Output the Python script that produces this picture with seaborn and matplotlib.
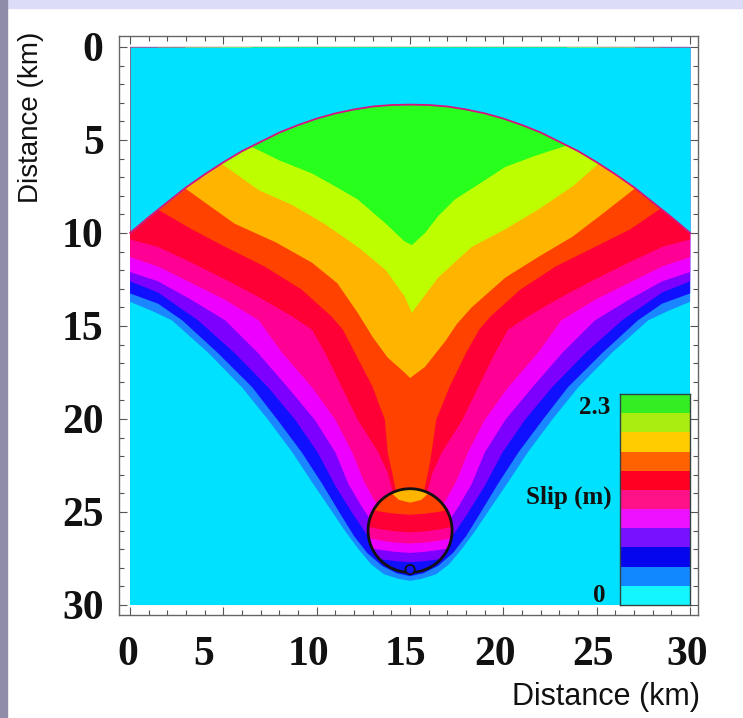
import numpy as np
import matplotlib
matplotlib.use("Agg")
import matplotlib.pyplot as plt
import seaborn as sns
from matplotlib.colors import ListedColormap
from matplotlib.patches import Circle, Rectangle
from matplotlib.transforms import ScaledTranslation

# rupture front (upper edge of slipping area), depth in km
arc_x = list(range(0, 31))
arc_y = [10.0, 9.15, 8.35, 7.55, 6.85, 6.2, 5.6, 5.1, 4.6, 4.2, 3.85, 3.57, 3.36, 3.2, 3.12, 3.1,
         3.12, 3.2, 3.36, 3.57, 3.85, 4.2, 4.6, 5.1, 5.6, 6.2, 6.85, 7.55, 8.35, 9.15, 10.0]

# lower edge of each slip level (level 1 = outer edge ... level 10 = highest slip)
b1_x = [0, 1.2, 2.25, 4.2, 6.0, 7.4, 8.7, 9.75, 10.7, 11.5, 12.2, 12.9, 13.6, 14.4, 15.0,
        15.6, 16.4, 17.1, 17.8, 18.5, 19.3, 20.25, 21.3, 22.6, 24.0, 25.8, 27.75, 28.8, 30]
b1_y = [13.7, 14.2, 14.7, 16.45, 18.3, 20.05, 21.8, 23.4, 24.8, 26.0, 26.95, 27.8, 28.35, 28.6, 28.7,
        28.6, 28.35, 27.8, 26.95, 26.0, 24.8, 23.4, 21.8, 20.05, 18.3, 16.45, 14.7, 14.2, 13.7]

b2_x = [0, 1.5, 2.8, 4.7, 6.55, 7.9, 9.2, 10.3, 11.2, 12.0, 12.7, 13.5, 14.3, 15.0,
        15.7, 16.5, 17.3, 18.0, 18.8, 19.7, 20.8, 22.1, 23.45, 25.3, 27.2, 28.5, 30]
b2_y = [13.25, 13.8, 14.7, 16.45, 18.3, 20.05, 21.8, 23.5, 25.0, 26.3, 27.2, 27.9, 28.3, 28.45,
        28.3, 27.9, 27.2, 26.3, 25.0, 23.5, 21.8, 20.05, 18.3, 16.45, 14.7, 13.8, 13.25]

b3_x = [0, 1.5, 2.5, 3.65, 5.6, 7.4, 8.85, 10.05, 11.0, 11.9, 12.6, 13.3, 14.1, 15.0,
        15.9, 16.7, 17.4, 18.1, 19.0, 19.95, 21.15, 22.6, 24.4, 26.35, 27.5, 28.5, 30]
b3_y = [12.6, 13.2, 13.9, 14.7, 16.45, 18.3, 20.05, 21.8, 23.6, 25.05, 26.1, 27.1, 27.75, 28.05,
        27.75, 27.1, 26.1, 25.05, 23.6, 21.8, 20.05, 18.3, 16.45, 14.7, 13.9, 13.2, 12.6]

b4_x = [0, 1.5, 3.3, 5.1, 6.85, 8.45, 9.9, 11.0, 11.7, 12.4, 13.2, 14.1, 15.0,
        15.9, 16.8, 17.6, 18.3, 19.0, 20.1, 21.55, 23.15, 24.9, 26.7, 28.5, 30]
b4_y = [12.1, 12.6, 13.6, 14.7, 16.45, 18.3, 20.05, 21.8, 23.5, 24.7, 25.9, 26.8, 27.2,
        26.8, 25.9, 24.7, 23.5, 21.8, 20.05, 18.3, 16.45, 14.7, 13.6, 12.6, 12.1]

b5_x = [0, 1.5, 3.3, 5.1, 6.9, 8.15, 9.75, 11.0, 11.9, 12.5, 13.1, 14.0, 15.0,
        16.0, 16.9, 17.5, 18.1, 19.0, 20.25, 21.85, 23.1, 24.9, 26.7, 28.5, 30]
b5_y = [11.3, 11.8, 12.7, 13.6, 14.7, 16.45, 18.3, 20.05, 21.8, 23.3, 24.4, 25.6, 26.0,
        25.6, 24.4, 23.3, 21.8, 20.05, 18.3, 16.45, 14.7, 13.6, 12.7, 11.8, 11.3]

b6_x = [0, 1.5, 3.3, 5.1, 6.9, 8.7, 9.75, 10.45, 11.35, 12.2, 13.3, 13.8, 14.0, 14.4, 15.0,
        15.6, 16.0, 16.2, 16.7, 17.8, 18.65, 19.55, 20.25, 21.3, 23.1, 24.9, 26.7, 28.5, 30]
b6_y = [10.35, 10.75, 11.6, 12.5, 13.45, 14.5, 15.2, 16.45, 18.3, 20.05, 21.8, 22.9, 23.65, 25.0, 25.3,
        25.0, 23.65, 22.9, 21.8, 20.05, 18.3, 16.45, 15.2, 14.5, 13.45, 12.5, 11.6, 10.75, 10.35]

b7_x = [1.5, 3.3, 5.1, 7.2, 9.2, 10.8, 11.4, 12.05, 13.0, 13.65, 13.8, 14.0, 14.2, 14.5, 15.0,
        15.5, 15.8, 16.0, 16.15, 16.4, 17.1, 18.0, 18.7, 19.3, 20.9, 22.8, 24.9, 26.8, 28.4]
b7_y = [8.75, 9.8, 10.75, 11.8, 13.05, 14.5, 15.2, 16.45, 18.3, 20.05, 21.8, 22.7, 23.65, 25.0, 25.3,
        25.0, 23.65, 22.7, 21.8, 20.05, 18.3, 16.45, 15.2, 14.5, 13.05, 11.8, 10.75, 9.8, 8.7]

b8_x = [2.95, 5.6, 7.8, 9.75, 11.1, 12.2, 13.0, 13.8, 14.7, 15.0,
        15.8, 16.9, 17.5, 18.3, 20.1, 21.85, 23.7, 25.4, 27.05]
b8_y = [7.6, 9.5, 10.5, 11.6, 12.7, 14.3, 15.6, 16.7, 17.5, 17.8,
        17.2, 15.8, 14.9, 14.0, 12.4, 11.3, 10.2, 8.9, 7.6]

b9_x = [4.9, 6.9, 8.7, 10.4, 12.2, 13.7, 14.7, 15.1, 15.3, 16.5, 18.3, 20.1, 21.85, 23.7, 25.1]
b9_y = [6.27, 7.7, 8.5, 9.5, 10.75, 12.0, 13.4, 14.3, 14.0, 12.4, 10.75, 9.8, 8.75, 7.5, 6.27]

b10_x = [6.5, 8.0, 9.75, 11.0, 12.2, 13.7, 14.7, 15.1, 15.8, 16.5, 17.4, 18.8, 20.1, 21.7, 23.4]
b10_y = [5.36, 6.1, 6.8, 7.5, 8.2, 9.5, 10.45, 10.65, 10.0, 9.1, 8.2, 7.3, 6.45, 5.85, 5.3]

# nucleation patch (circle) and its inner slip bands
hypo_center = (15.0, 26.0)
hypo_radius = 2.25
hypo_point = (15.0, 28.1)
patch_x = [12.5, 13.5, 14.25, 15.0, 15.75, 16.5, 17.5]
patch_red = [24.8, 25.0, 25.1, 25.15, 25.1, 25.0, 24.8]
patch_pink = [25.75, 25.95, 26.05, 26.1, 26.05, 25.95, 25.75]
patch_magenta = [26.35, 26.55, 26.65, 26.7, 26.65, 26.55, 26.35]
patch_violet = [26.9, 27.05, 27.15, 27.2, 27.15, 27.05, 26.9]
patch_blue = [27.4, 27.55, 27.65, 27.7, 27.65, 27.55, 27.4]
lens_x = [13.9, 14.4, 15.0, 15.6, 16.1]
lens_y = [23.9, 24.35, 24.5, 24.35, 23.9]

field_colors = ['#00e1ff', '#1a86ff', '#1010ff', '#7d00ff', '#ee00ff', '#ff0095',
                '#ff0036', '#ff4200', '#ffb500', '#bdff00', '#28ff1c']
cbar_colors = ['#14f6ff', '#1188ff', '#0505ee', '#7711ff', '#ee11ff', '#ff1188',
               '#ff0022', '#ff6200', '#ffcc00', '#aaee11', '#33ee22']
cbar_levels = [10, 9, 8, 7, 6, 5, 4, 3, 2, 1, 0]

sns.set_theme(style="ticks")
serif = ['Liberation Serif', 'DejaVu Serif']
sans = ['Liberation Sans', 'DejaVu Sans']

fig = plt.figure(figsize=(7.43, 7.18), dpi=100)
fig.patch.set_facecolor('white')
fig.patches.append(Rectangle((0, 1 - 8 / 718), 1, 8 / 718, transform=fig.transFigure,
                             color='#dcdcf6', zorder=0))
fig.patches.append(Rectangle((0, 0), 7 / 743, 1, transform=fig.transFigure,
                             color='#8e8ca6', zorder=0))

ax = fig.add_axes([119 / 743, 1 - 615 / 718, 579 / 743, 579 / 718])
ax.set_facecolor('white')
ax.add_patch(Rectangle((0, 0), 30, 30, color=field_colors[0], lw=0, zorder=1))

bounds = [(b1_x, b1_y), (b2_x, b2_y), (b3_x, b3_y), (b4_x, b4_y), (b5_x, b5_y),
          (b6_x, b6_y), (b7_x, b7_y), (b8_x, b8_y), (b9_x, b9_y), (b10_x, b10_y)]
for lvl, (bx, by) in enumerate(bounds, start=1):
    xs = bx + [bx[-1], bx[0]]
    ys = by + [0, 0]
    ax.fill(xs, ys, color=field_colors[lvl], lw=0, zorder=2)

# everything ahead of the rupture front has not slipped
ax.fill_between(arc_x, 0, arc_y, color=field_colors[0], lw=0, zorder=3)
sns.lineplot(x=arc_x, y=arc_y, ax=ax, color='#d8127a', lw=1.3, zorder=4, sort=False)

# nucleation patch
circ = Circle(hypo_center, hypo_radius, facecolor=field_colors[7], edgecolor='none', zorder=5)
ax.add_patch(circ)
for lvl, yy in zip([6, 5, 4, 3, 2], [patch_red, patch_pink, patch_magenta, patch_violet, patch_blue]):
    polys = ax.fill(patch_x + [patch_x[-1], patch_x[0]], yy + [29, 29],
                    color=field_colors[lvl], lw=0, zorder=5)
    for p in polys:
        p.set_clip_path(circ)
polys = ax.fill(lens_x + [lens_x[-1], lens_x[0]], lens_y + [23.0, 23.0],
                color=field_colors[8], lw=0, zorder=5)
for p in polys:
    p.set_clip_path(circ)
ax.add_patch(Circle(hypo_center, hypo_radius, fill=False, edgecolor='#111111', lw=2.0, zorder=6))
ax.add_patch(Circle(hypo_point, 0.25, facecolor=field_colors[2], edgecolor='#111111', lw=1.3, zorder=6))

ax.set_xlim(-0.59, 30.42)
ax.set_ylim(30.54, -0.59)
ax.set_xticks(range(0, 31, 5))
ax.set_yticks(range(0, 31, 5))
ax.set_xticks(range(0, 31), minor=True)
ax.set_yticks(range(0, 31), minor=True)
ax.tick_params(which='both', direction='in', top=True, right=True, color='#555555', width=0.8)
ax.tick_params(which='major', length=6)
ax.tick_params(which='minor', length=3.5)
ax.tick_params(axis='x', pad=15)
ax.tick_params(axis='y', pad=11)
for lab in ax.get_xticklabels() + ax.get_yticklabels():
    lab.set_fontfamily(serif)
    lab.set_fontweight('bold')
    lab.set_fontsize(30)
    lab.set_color('#111111')
# the x labels in the original sit a little left of their ticks
x_label_shift = [-2, -20, -8, -5, -8, -4, -3]
for lab, dx in zip(ax.get_xticklabels(), x_label_shift):
    lab.set_transform(lab.get_transform() + ScaledTranslation(dx / 100, 0, fig.dpi_scale_trans))
for s in ax.spines.values():
    s.set_color('#666666')
    s.set_linewidth(1.0)
    s.set_visible(True)

fig.text(700 / 743, 1 - 697 / 718, 'Distance (km)', ha='right', va='center',
         fontsize=22, family=sans, color='#111111')
fig.text(31 / 743, 1 - 117 / 718, 'Distance (km)', ha='center', va='center', rotation=90,
         fontsize=20, family=sans, color='#111111')

# colour key
cax = fig.add_axes([620 / 743, 1 - 605 / 718, 70 / 743, 211 / 718])
sns.heatmap(np.array(cbar_levels).reshape(-1, 1), ax=cax, cmap=ListedColormap(cbar_colors),
            vmin=0, vmax=10, cbar=False, xticklabels=False, yticklabels=False, linewidths=0)
for s in cax.spines.values():
    s.set_visible(True)
    s.set_color('#334444')
    s.set_linewidth(1.0)

fig.text(610 / 743, 1 - 407 / 718, '2.3', ha='right', va='center', fontsize=18,
         family=serif, weight='bold', color='#111111')
fig.text(612 / 743, 1 - 497 / 718, 'Slip (m)', ha='right', va='center', fontsize=18,
         family=serif, weight='bold', color='#111111')
fig.text(606 / 743, 1 - 595 / 718, '0', ha='right', va='center', fontsize=18,
         family=serif, weight='bold', color='#111111')

fig.savefig('out.png', dpi=100, facecolor=fig.get_facecolor())
